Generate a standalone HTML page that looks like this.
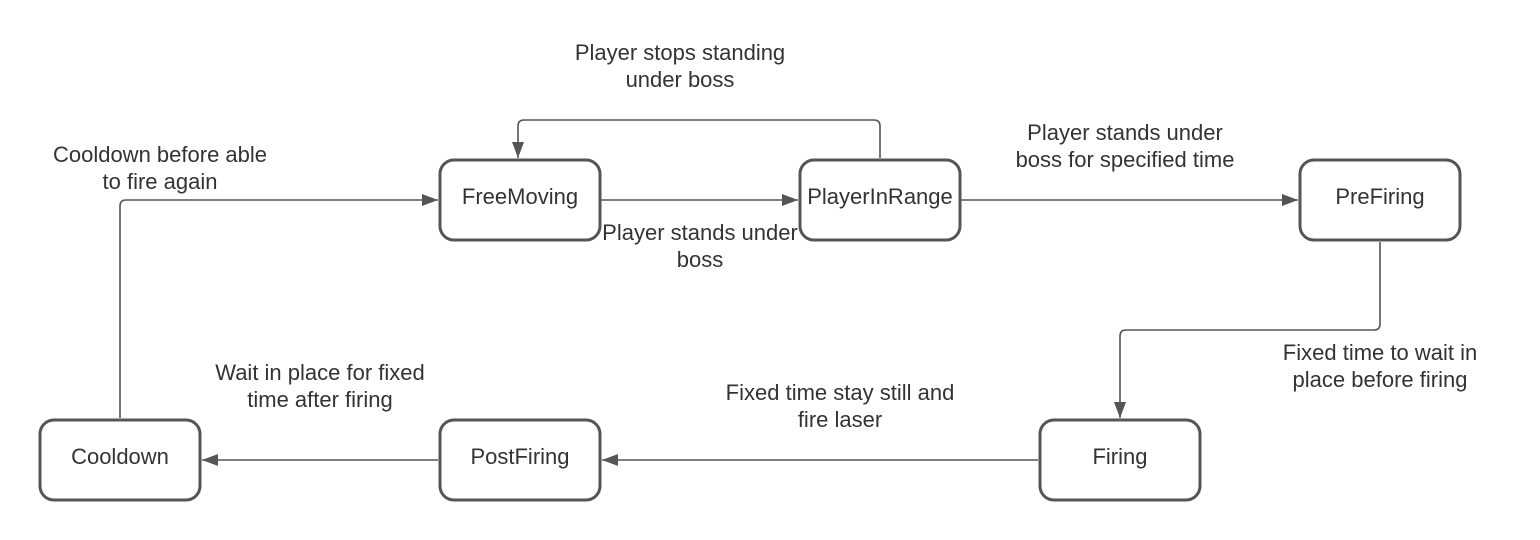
<!DOCTYPE html>
<html><head><style>body{margin:0;background:#fff}svg{display:block}text{font-family:"Liberation Sans",sans-serif;font-size:22px;fill:#333;text-anchor:middle}</style></head><body>
<svg width="1540" height="540" viewBox="0 0 1540 540">
<defs><marker id="a" markerWidth="16" markerHeight="14" refX="16" refY="7" orient="auto" markerUnits="userSpaceOnUse"><path d="M0,1L16,7L0,13z" fill="#555"/></marker></defs>
<g fill="none" stroke="#555" stroke-width="1.6">
<path d="M601,200H798" marker-end="url(#a)"/>
<path d="M961,200H1298" marker-end="url(#a)"/>
<path d="M880,158V126Q880,120 874,120H524Q518,120 518,126V158" marker-end="url(#a)"/>
<path d="M1380,242V324Q1380,330 1374,330H1126Q1120,330 1120,336V418" marker-end="url(#a)"/>
<path d="M1038,460H602" marker-end="url(#a)"/>
<path d="M438,460H202" marker-end="url(#a)"/>
<path d="M120,418V206Q120,200 126,200H438" marker-end="url(#a)"/>
</g>
<g fill="#fff" stroke="#555" stroke-width="3">
<rect x="440" y="160" width="160" height="80" rx="14"/>
<rect x="800" y="160" width="160" height="80" rx="14"/>
<rect x="1300" y="160" width="160" height="80" rx="14"/>
<rect x="1040" y="420" width="160" height="80" rx="14"/>
<rect x="440" y="420" width="160" height="80" rx="14"/>
<rect x="40" y="420" width="160" height="80" rx="14"/>
</g>
<text x="520" y="204">FreeMoving</text>
<text x="880" y="204">PlayerInRange</text>
<text x="1380" y="204">PreFiring</text>
<text x="1120" y="464">Firing</text>
<text x="520" y="464">PostFiring</text>
<text x="120" y="464">Cooldown</text>
<text x="680" y="60">Player stops standing</text>
<text x="680" y="87">under boss</text>
<text x="1125" y="140">Player stands under</text>
<text x="1125" y="167">boss for specified time</text>
<text x="700" y="240">Player stands under</text>
<text x="700" y="267">boss</text>
<text x="160" y="162">Cooldown before able</text>
<text x="160" y="189">to fire again</text>
<text x="1380" y="360">Fixed time to wait in</text>
<text x="1380" y="387">place before firing</text>
<text x="840" y="400">Fixed time stay still and</text>
<text x="840" y="427">fire laser</text>
<text x="320" y="380">Wait in place for fixed</text>
<text x="320" y="407">time after firing</text>
</svg>
</body></html>
